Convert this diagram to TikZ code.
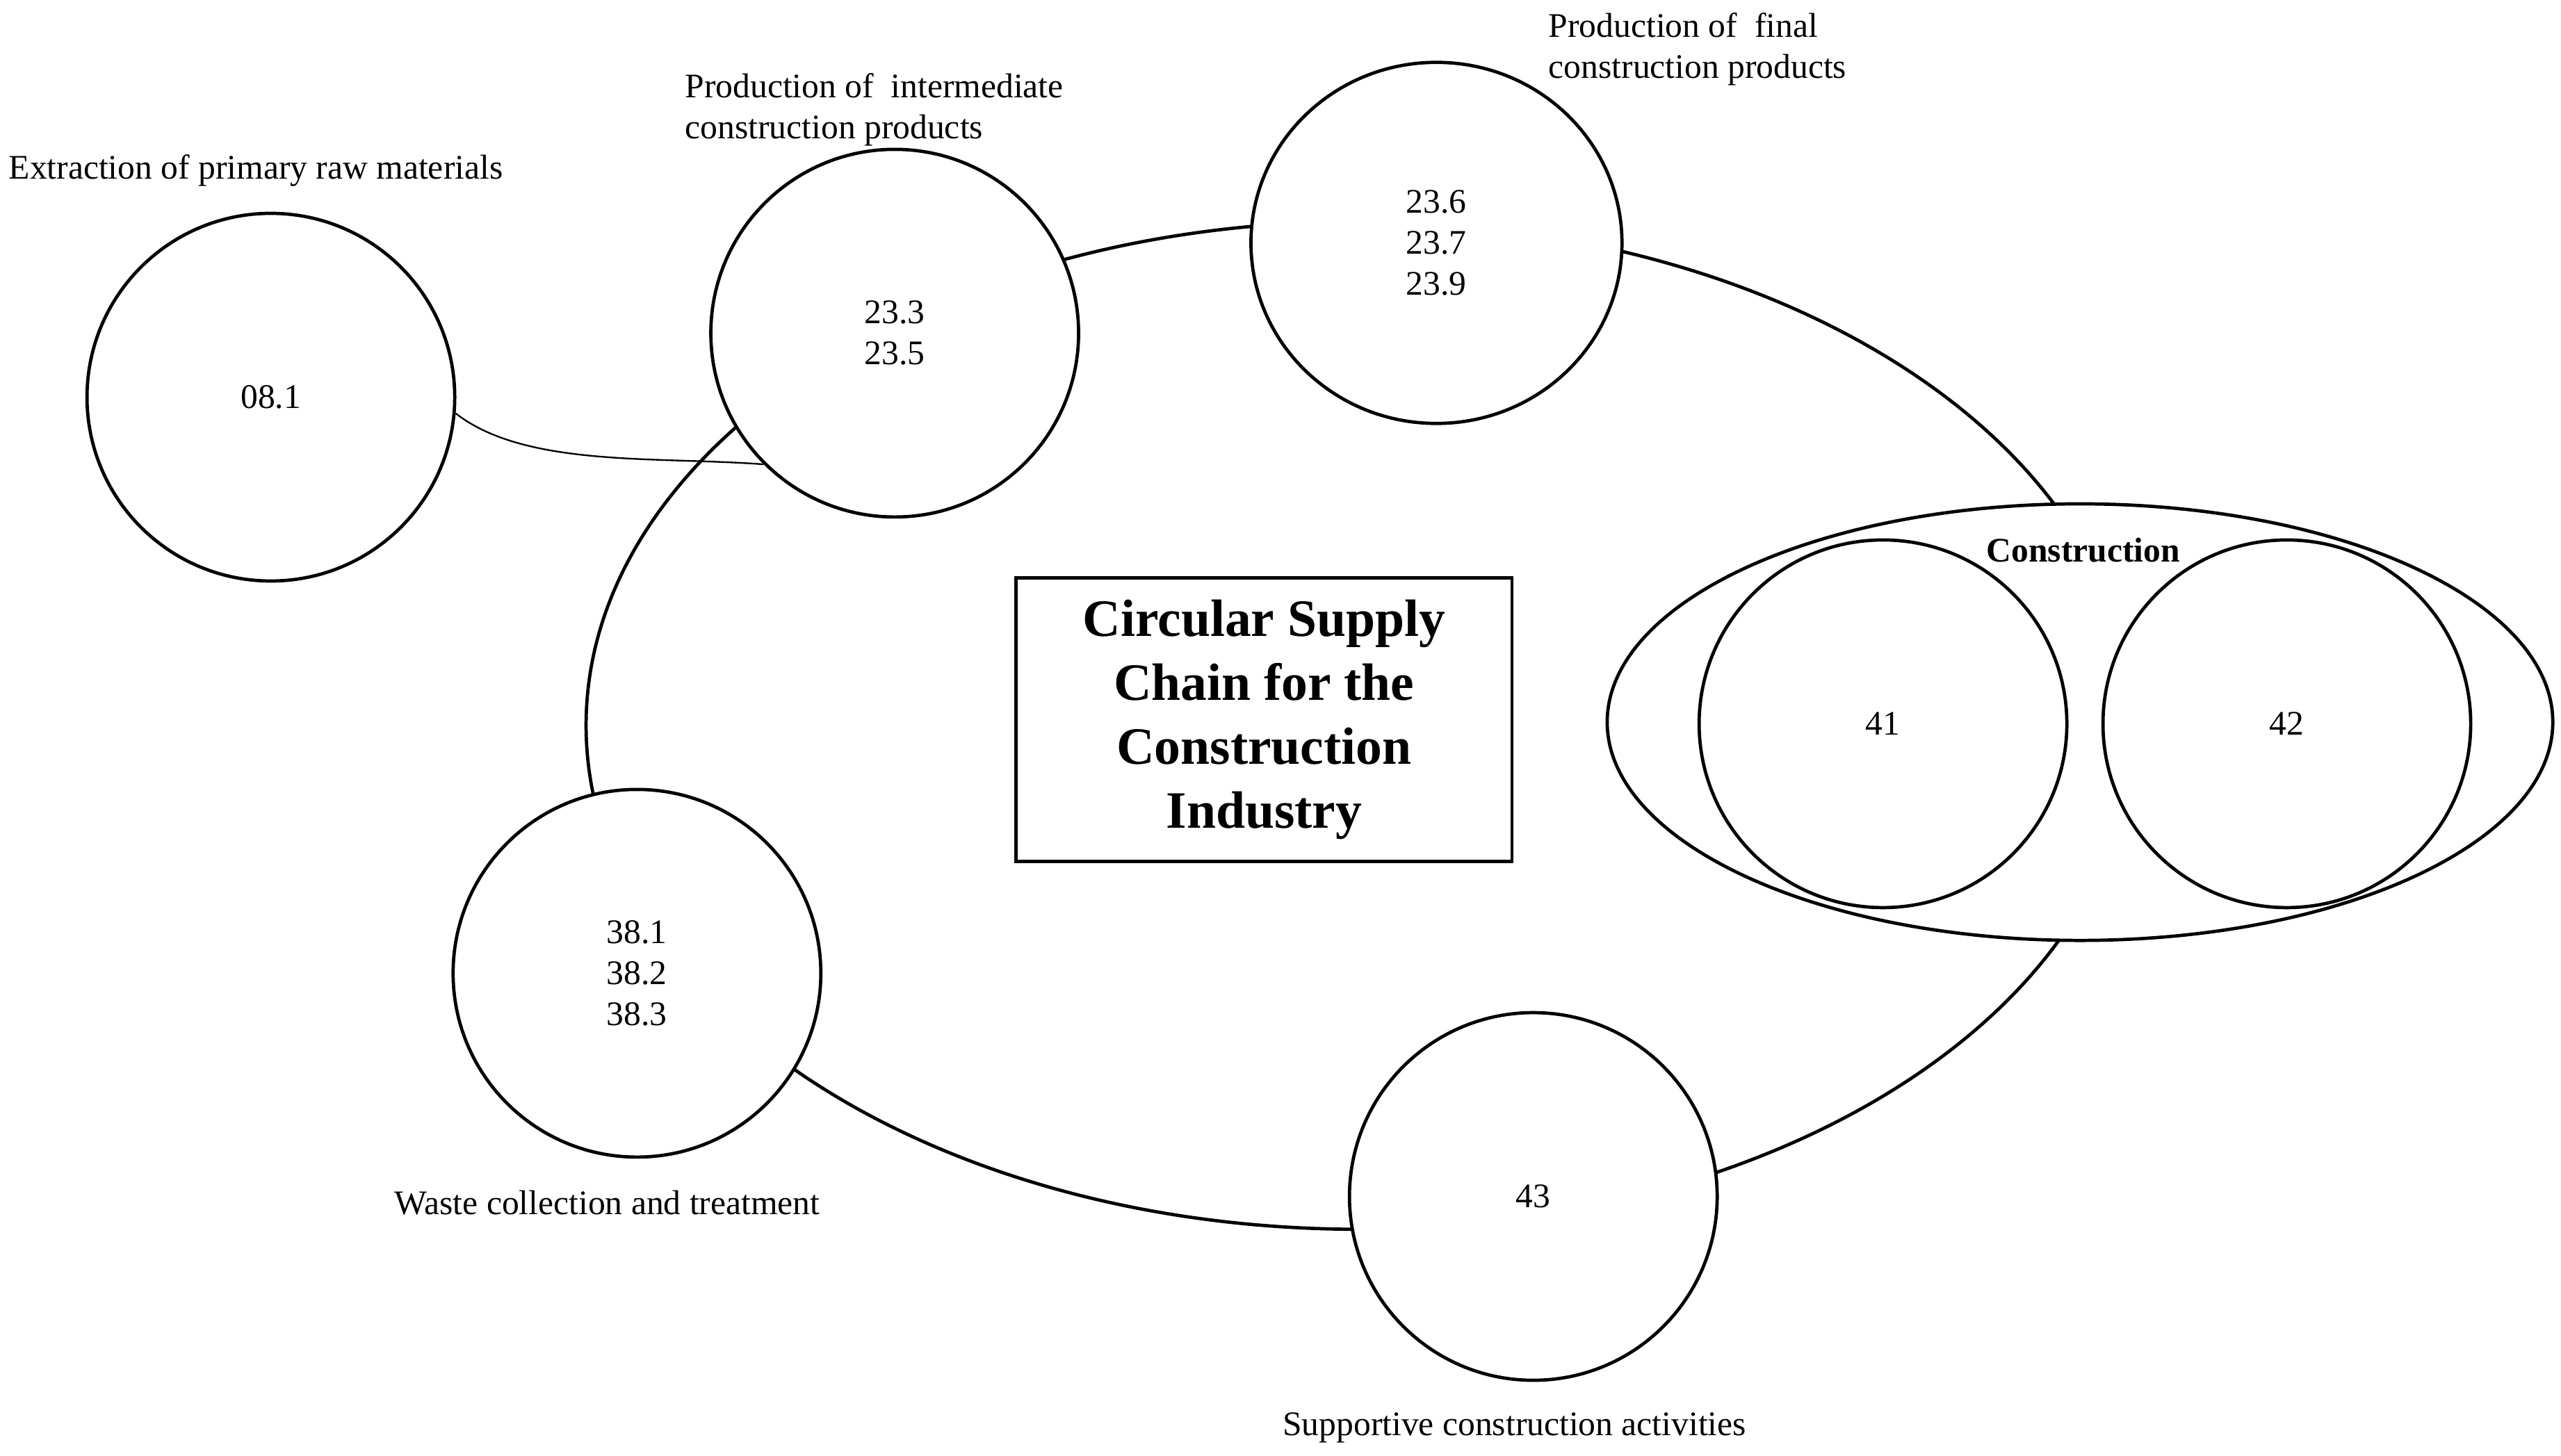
\documentclass[tikz,border=0pt]{standalone}
\usepackage{fontspec}
\setmainfont{Liberation Serif}
\usetikzlibrary{shapes.geometric}
\begin{document}
\begin{tikzpicture}[x=0.5pt,y=-0.5pt,
  node circ/.style={circle,draw,line width=1pt,fill=white,minimum size=112pt,inner sep=0pt,align=center,font=\fontsize{10.5}{12.5}\selectfont},
  lbl/.style={anchor=west,align=left,inner sep=0pt,font=\fontsize{10.5}{12.5}\selectfont},
  link/.style={line width=1pt}]
\useasboundingbox (0,0) rectangle (1560,887);
% loop
\draw[link] (828,442) ellipse [x radius=235.5pt, y radius=153.5pt];
% construction ellipse
\node[ellipse,draw,line width=1pt,fill=white,minimum width=288pt,minimum height=133pt,inner sep=0pt] (con) at (1267,440) {};
\node[font=\fontsize{10.5}{12.5}\selectfont\bfseries] (conl) at (1269,335) {Construction};
\node[node circ] (c41) at (1147,441) {41};
\node[node circ] (c42) at (1393,441) {42};
\node[node circ] (c08) at (165,242) {08.1};
\node[node circ] (c23a) at (545,203) {23.3\\23.5};
\node[node circ,minimum width=113pt,minimum height=110pt,ellipse] (c23b) at (875,148) {23.6\\23.7\\23.9};
\node[node circ] (c43) at (934,729) {43};
\node[node circ] (c38) at (388,593) {38.1\\38.2\\38.3};
\draw[line width=0.5pt] (c08.-5) .. controls (320,285) and (400,278) .. (c23a.-135);
\node[draw,line width=1pt,fill=white,minimum width=151pt,minimum height=86.5pt,align=center,font=\fontsize{16}{19.5}\selectfont\bfseries] (title) at (770,438.5) {Circular Supply\\Chain for the\\Construction\\Industry};
\node[lbl] (l1) at (5,104) {Extraction of primary raw materials};
\node[lbl] (l2) at (417,67) {Production of\ \ intermediate\\construction products};
\node[lbl] (l3) at (943,30) {Production of\ \ final\\construction products};
\node[lbl] (l4) at (240,733) {Waste collection and treatment};
\node[lbl] (l5) at (781,870) {Supportive construction activities};
\end{tikzpicture}
\end{document}
